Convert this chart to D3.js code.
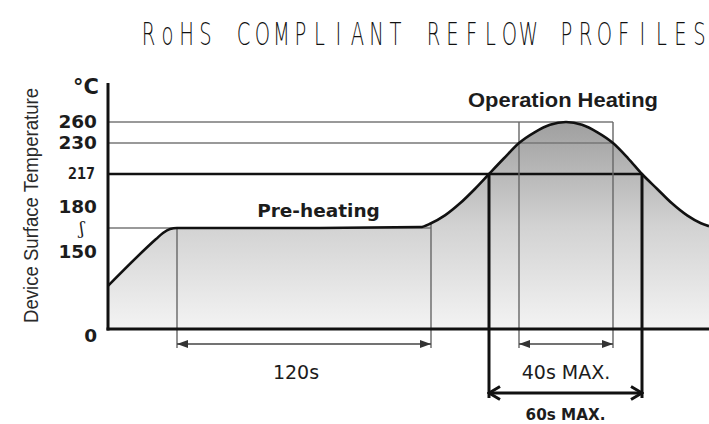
<!DOCTYPE html>
<html><head><meta charset="utf-8">
<script src="https://cdn.jsdelivr.net/npm/d3@7"></script>
<style>html,body{margin:0;padding:0;background:#fff;} svg{display:block;}</style>
</head><body>
<svg id="chart" width="709" height="424"></svg>
<script>
// Reflow profile: time (s) against device surface temperature (°C).
const chartTitle = "RoHS COMPLIANT REFLOW PROFILES";
const axisTitle = "Device Surface Temperature";
const unitLabel = "°C";

// Time breakpoints of the (schematic, non-uniform) time axis, in seconds
const timeBreaks = [0, 30, 150, 180, 190, 230, 240, 270];
// Temperature breakpoints of the (schematic) temperature axis, in °C
const tempBreaks = [0, 150, 165, 180, 217, 230, 260];

// Profile curve
const profileTime = [0, 20.9, 23.9, 27, 30, 90, 145, 150, 157.2, 165, 172.8, 180, 185, 190, 196.8, 203.2, 210, 216.8, 223.2, 230, 235.2, 240, 246.7, 253.4, 260.2, 266.4, 270];
const profileTemp = [84, 158.1, 161.9, 164.4, 165, 165, 165.7, 168.4, 174, 184.1, 200.5, 217, 223.6, 230, 245.7, 256.1, 260, 256.1, 245.7, 230, 223.6, 217, 200.5, 184.1, 174, 168.4, 166.3];

// Temperature ticks and their labels (165 marks the 150~180 soak band)
const tempTicks = [0, 150, 165, 180, 217, 230, 260];
const tempTickLabels = ["0", "150", "ʃ", "180", "217", "230", "260"];

// Reference levels: temperature, end time, heavy?
const levelTemps = [260, 230, 165, 217];
const levelEnds = [230, 230, 150, 240];
const levelHeavy = [false, false, false, true];

// Timed windows
const windowStart = [30, 190, 180];
const windowEnd = [150, 230, 240];
const windowLabels = ["120s", "40s MAX.", "60s MAX."];

const phaseLabels = ["Pre-heating", "Operation Heating"];

const svg = d3.select("#chart");

const x = d3.scaleLinear().domain(timeBreaks).range([108, 177, 431, 489, 519, 613, 642, 709]);
const y = d3.scaleLinear().domain(tempBreaks).range([329, 252, 228, 207, 174, 143, 122]);

const profile = profileTime.map((t, i) => ({t, T: profileTemp[i]}));
const tempAt = t => profileTemp[profileTime.indexOf(t)];

// Gradient fill under the curve
const defs = svg.append("defs");
const grad = defs.append("linearGradient").attr("id", "heatFill")
  .attr("gradientUnits", "userSpaceOnUse")
  .attr("x1", 0).attr("x2", 0).attr("y1", y(260)).attr("y2", y(0));
grad.append("stop").attr("offset", 0).attr("stop-color", "#9f9f9f");
grad.append("stop").attr("offset", 0.5).attr("stop-color", "#d2d2d2");
grad.append("stop").attr("offset", 1).attr("stop-color", "#f3f3f3");

defs.append("marker").attr("id", "headThin")
  .attr("markerUnits", "userSpaceOnUse").attr("viewBox", "0 0 11 8")
  .attr("markerWidth", 11).attr("markerHeight", 8)
  .attr("refX", 11).attr("refY", 4).attr("orient", "auto-start-reverse")
  .append("path").attr("d", "M0,0L11,4L0,8Z").attr("fill", "#333");

defs.append("marker").attr("id", "headThick")
  .attr("markerUnits", "userSpaceOnUse").attr("viewBox", "0 0 14 16")
  .attr("markerWidth", 14).attr("markerHeight", 16)
  .attr("refX", 12).attr("refY", 8).attr("orient", "auto-start-reverse")
  .append("path").attr("d", "M1,1.5L12,8L1,14.5").attr("fill", "none")
  .attr("stroke", "#111").attr("stroke-width", 3);

const curve = d3.curveMonotoneX;
svg.append("path").datum(profile)
  .attr("d", d3.area().x(d => x(d.t)).y0(y(0)).y1(d => y(d.T)).curve(curve))
  .attr("fill", "url(#heatFill)");

// Reference levels
levelTemps.forEach((T, i) => {
  svg.append("line")
    .attr("x1", x(0)).attr("x2", x(levelEnds[i]))
    .attr("y1", y(T)).attr("y2", y(T))
    .attr("stroke", levelHeavy[i] ? "#111" : "#777")
    .attr("stroke-width", levelHeavy[i] ? 2.6 : 1.4);
});

// Window boundaries and their span arrows
const arrowY = [344, 344, 393];
const winTop = [
  [tempAt(30), tempAt(150)],
  [260, 260],
  [217, 217]
];
windowStart.forEach((s, i) => {
  const heavy = i === 2;
  [s, windowEnd[i]].forEach((t, k) => {
    svg.append("line")
      .attr("x1", x(t)).attr("x2", x(t))
      .attr("y1", y(winTop[i][k])).attr("y2", arrowY[i] + (heavy ? 5 : 4))
      .attr("stroke", heavy ? "#111" : "#666")
      .attr("stroke-width", heavy ? 3 : 1.4);
  });
  svg.append("line")
    .attr("x1", x(s)).attr("x2", x(windowEnd[i]))
    .attr("y1", arrowY[i]).attr("y2", arrowY[i])
    .attr("stroke", heavy ? "#111" : "#444")
    .attr("stroke-width", heavy ? 3 : 1.3)
    .attr("marker-start", heavy ? "url(#headThick)" : "url(#headThin)")
    .attr("marker-end", heavy ? "url(#headThick)" : "url(#headThin)");
});

// Profile line
svg.append("path").datum(profile)
  .attr("d", d3.line().x(d => x(d.t)).y(d => y(d.T)).curve(curve))
  .attr("fill", "none").attr("stroke", "#111").attr("stroke-width", 2.6);

// Axes
svg.append("line").attr("x1", x(0)).attr("x2", x(0)).attr("y1", 83).attr("y2", y(0) + 1.5)
  .attr("stroke", "#111").attr("stroke-width", 3);
svg.append("line").attr("x1", x(0) - 1.5).attr("x2", x(270)).attr("y1", y(0)).attr("y2", y(0))
  .attr("stroke", "#111").attr("stroke-width", 3);

const yAxis = svg.append("g").attr("transform", `translate(${x(0)},0)`)
  .call(d3.axisLeft(y).tickValues(tempTicks).tickSize(0).tickPadding(11)
    .tickFormat(d => tempTickLabels[tempTicks.indexOf(d)]));
yAxis.select(".domain").remove();
yAxis.selectAll("text")
  .attr("font-family", "DejaVu Sans, sans-serif")
  .attr("font-weight", "bold")
  .attr("font-size", 18.5)
  .attr("fill", "#1c1c1c");
yAxis.selectAll(".tick").filter(d => d === 217).select("text")
  .attr("font-size", 15).attr("x", -13).attr("font-family", "DejaVu Sans Mono, monospace");
yAxis.selectAll(".tick").filter(d => d === 0).select("text").attr("dy", "0.65em");
yAxis.selectAll(".tick").filter(d => d === 165).select("text")
  .attr("x", -24).attr("font-size", 17).attr("font-weight", "normal")
  .attr("font-family", "DejaVu Serif, serif").attr("dy", "0.3em");

svg.append("text").attr("x", 99).attr("y", 94).attr("text-anchor", "end")
  .attr("font-family", "DejaVu Sans, sans-serif").attr("font-weight", "bold")
  .attr("font-size", 21).attr("fill", "#1c1c1c").text(unitLabel);

svg.append("text")
  .attr("transform", `translate(38,${205.5}) rotate(-90)`)
  .attr("text-anchor", "middle")
  .attr("font-family", "Liberation Sans, Arial, sans-serif")
  .attr("font-size", 20.5).attr("fill", "#2a2a2a")
  .attr("textLength", 235).attr("lengthAdjust", "spacingAndGlyphs")
  .text(axisTitle);

// Phase labels
svg.append("text").attr("x", 318.5).attr("y", 216.5).attr("text-anchor", "middle")
  .attr("font-family", "DejaVu Sans, sans-serif").attr("font-weight", "bold")
  .attr("font-size", 18.5).attr("fill", "#1c1c1c")
  .text(phaseLabels[0]);
svg.append("text").attr("x", 563).attr("y", 107).attr("text-anchor", "middle")
  .attr("font-family", "Liberation Sans, Arial, sans-serif").attr("font-weight", "bold")
  .attr("font-size", 20).attr("fill", "#1c1c1c")
  .attr("textLength", 190).attr("lengthAdjust", "spacingAndGlyphs")
  .text(phaseLabels[1]);

// Window labels
const labelY = [378.5, 378.5, 419.5];
windowLabels.forEach((lab, i) => {
  svg.append("text")
    .attr("x", (x(windowStart[i]) + x(windowEnd[i])) / 2 + (i === 0 ? -8 : 0))
    .attr("y", labelY[i]).attr("text-anchor", "middle")
    .attr("font-family", "DejaVu Sans, sans-serif")
    .attr("font-weight", i === 2 ? "bold" : "normal")
    .attr("font-size", i === 2 ? 15.2 : 19)
    .attr("fill", "#1c1c1c")
    .text(lab);
});

// Title, laid out on a fixed character pitch
const titleChars = chartTitle.split("");
svg.append("g").selectAll("g").data(titleChars).join("g")
  .attr("transform", (c, i) => `translate(${148.5 + i * 19},45) scale(0.62,1)`)
  .append("text").attr("text-anchor", "middle")
  .attr("font-family", "DejaVu Sans, sans-serif").attr("font-weight", 200)
  .attr("font-size", 31.5).attr("fill", "#111")
  .text(c => c);
</script>
</body></html>
